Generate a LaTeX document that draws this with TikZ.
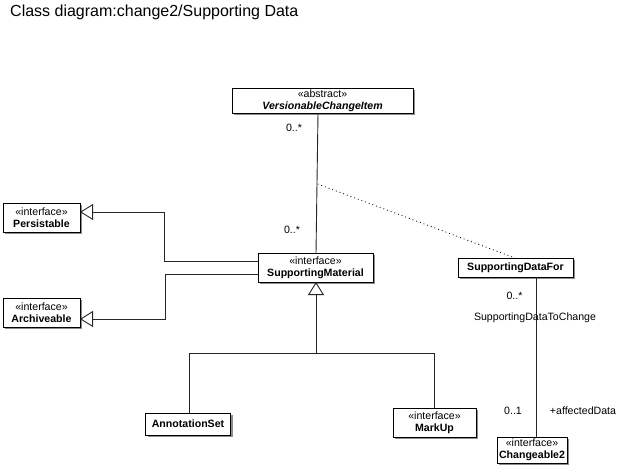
\documentclass[tikz,border=0pt]{standalone}
\usepackage{fontspec}
\setmainfont{Liberation Sans}
\usetikzlibrary{arrows.meta,shadows}
\begin{document}
\begin{tikzpicture}[x=1pt,y=-1pt,
  cls/.style={draw=black, fill=white, line width=0.9pt, inner sep=0pt, align=center,
    font=\fontsize{10.6}{12}\selectfont,
    drop shadow={shadow xshift=2pt, shadow yshift=-2pt, fill=black!45, opacity=1}},
  conn/.style={draw=black!85, line width=0.9pt},
  gen/.style={conn, -{Triangle[open, length=13pt, width=16pt, fill=white]}},
  lbl/.style={font=\fontsize{10.6}{12}\selectfont, inner sep=0pt}]
\useasboundingbox (0,0) rectangle (617,467);
\node[anchor=west, font=\fontsize{16}{18}\selectfont, inner sep=0pt] (title) at (10,12) {Class diagram:change2/Supporting Data};

\node[cls, minimum width=181, minimum height=25] (vci) at (322.5,100.5) {«abstract»\\\textbf{\textit{VersionableChangeItem}}};
\node[cls, minimum width=77, minimum height=29] (pers) at (41.5,217.5) {«interface»\\\textbf{Persistable}};
\node[cls, minimum width=77, minimum height=29] (arch) at (41.5,312.5) {«interface»\\\textbf{Archiveable}};
\node[cls, minimum width=115, minimum height=29] (sm) at (315.5,267.5) {«interface»\\\textbf{SupportingMaterial}};
\node[cls, minimum width=115, minimum height=19] (sdf) at (515.5,267.5) {\textbf{SupportingDataFor}};
\node[cls, minimum width=85, minimum height=22] (ann) at (188,424) {\textbf{AnnotationSet}};
\node[cls, minimum width=83, minimum height=29] (mark) at (434.5,422.5) {«interface»\\\textbf{MarkUp}};
\node[cls, minimum width=70, minimum height=26] (chg) at (532,450) {«interface»\\\textbf{Changeable2}};

% association VCI - SM
\coordinate (a1) at (318,113);
\coordinate (a2) at (316,253);
\coordinate (amid) at (317.6,184);
\draw[conn] (a1) -- (a2);
\node[lbl] (m1) at (294,128) {0..*};
\node[lbl] (m2) at (292,230) {0..*};

% association class dotted line
\coordinate (d2) at (515,258);
\draw[black, line width=0.8pt, dash pattern=on 0.9pt off 3pt] (amid) -- (d2);

% generalizations to Persistable and Archiveable
\coordinate (p0) at (258,261);
\coordinate (p1) at (80,212);
\draw[gen] (p0) -- (164,261) -- (164,212) -- (p1);
\coordinate (q0) at (258,274);
\coordinate (q1) at (80,319);
\draw[gen] (q0) -- (165,274) -- (165,319) -- (q1);

% generalization tree to SupportingMaterial
\coordinate (t0) at (316,353);
\coordinate (tt) at (316,282);
\draw[gen] (t0) -- (tt);
\coordinate (c1) at (189,413);
\coordinate (c2) at (434,408);
\draw[conn] (c1) |- (t0) -| (c2);

% association SDF - Changeable2
\coordinate (s1) at (536,277);
\coordinate (s2) at (536,437);
\draw[conn] (s1) -- (s2);
\node[lbl] (m3) at (514.5,296) {0..*};
\node[lbl] (rn) at (535,318) {SupportingDataToChange};
\node[lbl] (m4) at (513,411) {0..1};
\node[lbl] (rl) at (583,411) {+affectedData};
\end{tikzpicture}
\end{document}
